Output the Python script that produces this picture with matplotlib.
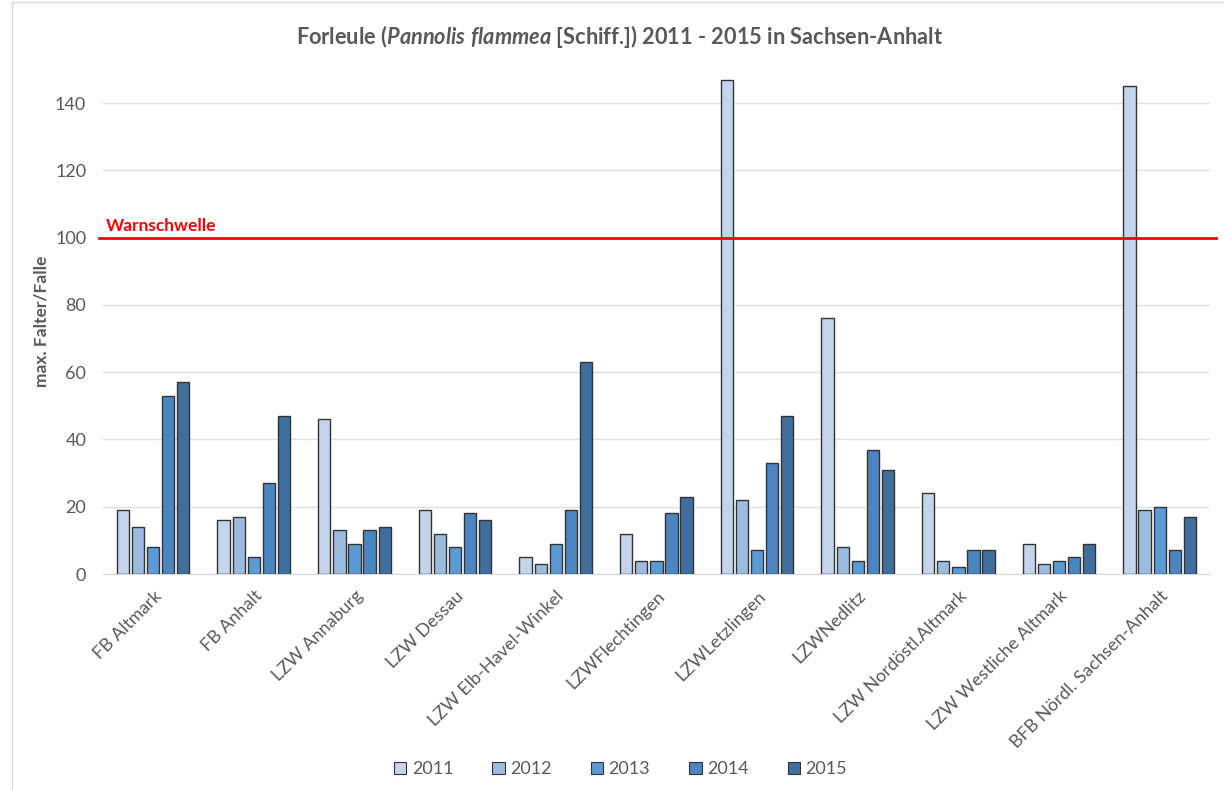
import matplotlib
matplotlib.use("Agg")
import matplotlib.pyplot as plt
import numpy as np
from matplotlib.lines import Line2D

plt.rcParams['font.family'] = ['Lato', 'DejaVu Sans']
plt.rcParams['font.size'] = 12
plt.rcParams['mathtext.fontset'] = 'custom'
plt.rcParams['mathtext.it'] = 'Lato:italic:bold'
plt.rcParams['mathtext.rm'] = 'Lato:bold'

# data
sites = ["FB Altmark", "FB Anhalt", "LZW Annaburg", "LZW Dessau", "LZW Elb-Havel-Winkel",
         "LZWFlechtingen", "LZWLetzlingen", "LZWNedlitz", "LZW Nordöstl.Altmark",
         "LZW Westliche Altmark", "BFB Nördl. Sachsen-Anhalt"]
years = ["2011", "2012", "2013", "2014", "2015"]
v2011 = [19, 16, 46, 19, 5, 12, 147, 76, 24, 9, 145]
v2012 = [14, 17, 13, 12, 3, 4, 22, 8, 4, 3, 19]
v2013 = [8, 5, 9, 8, 9, 4, 7, 4, 2, 4, 20]
v2014 = [53, 27, 13, 18, 19, 18, 33, 37, 7, 5, 7]
v2015 = [57, 47, 14, 16, 63, 23, 47, 31, 7, 9, 17]
threshold = 100

series = [v2011, v2012, v2013, v2014, v2015]
colors = ['#c3d4ec', '#9cbbe1', '#5b9bd5', '#4a86c1', '#3e6f9e']
text_col = '#595959'

fig = plt.figure(figsize=(12.24, 7.9), dpi=100)
ax = fig.add_axes([0.084, 0.2734, 0.9046, 0.6386])

x = np.arange(len(sites))
w = 0.122
step = 0.15
for i, (vals, c) in enumerate(zip(series, colors)):
    ax.bar(x + (i - 2) * step, vals, width=w, color=c, edgecolor='#333333',
           linewidth=1.0, label=years[i], zorder=3)

ax.set_xlim(-0.5, len(sites) - 0.5)
ax.set_ylim(0, 150)
ax.set_yticks(range(0, 141, 20))
ax.grid(axis='y', color='#e0e0e0', linewidth=1, zorder=0)
for s in ['top', 'right', 'left']:
    ax.spines[s].set_visible(False)
ax.spines['bottom'].set_color('#d9d9d9')
ax.tick_params(axis='both', length=0, colors=text_col, labelsize=13)
ax.tick_params(axis='y', pad=12)
ax.set_xticks(x)
ax.set_xticklabels(sites, rotation=45, ha='right', rotation_mode='anchor')
ax.tick_params(axis='x', pad=10)

# warning threshold
ax.axhline(threshold, xmin=-0.003, xmax=1.005, color='#ff0000', linewidth=2,
           zorder=4, clip_on=False)
ax.text(-0.47, threshold + 1.0, "Warnschwelle", color='#ff0000', fontsize=12.5,
        fontweight='bold', ha='left', va='bottom')

ax.set_ylabel("max. Falter/Falle", color=text_col, fontsize=12.5, fontweight='bold', labelpad=4)

fig.text(0.5065, 0.954,
         r"Forleule ($\it{Pannolis\ flammea}$ [Schiff.]) 2011 - 2015 in Sachsen-Anhalt",
         color=text_col, fontsize=15.7, fontweight='bold', ha='center', va='center')

handles = [plt.Rectangle((0, 0), 1, 1, facecolor=c, edgecolor='#333333', linewidth=0.8)
           for c in colors]
fig.legend(handles, years, loc='center', bbox_to_anchor=(0.507, 0.026), ncol=5,
           frameon=False, fontsize=13, handlelength=0.7, handleheight=0.7,
           handletextpad=0.3, columnspacing=2.15, labelcolor=text_col)

# outer chart border (left and top)
fig.add_artist(Line2D([12 / 1224, 12 / 1224], [0, 1 - 2 / 790], color='#d9d9d9', linewidth=1))
fig.add_artist(Line2D([12 / 1224, 1], [1 - 2 / 790, 1 - 2 / 790], color='#d9d9d9', linewidth=1))

fig.savefig("out.png", dpi=100)
